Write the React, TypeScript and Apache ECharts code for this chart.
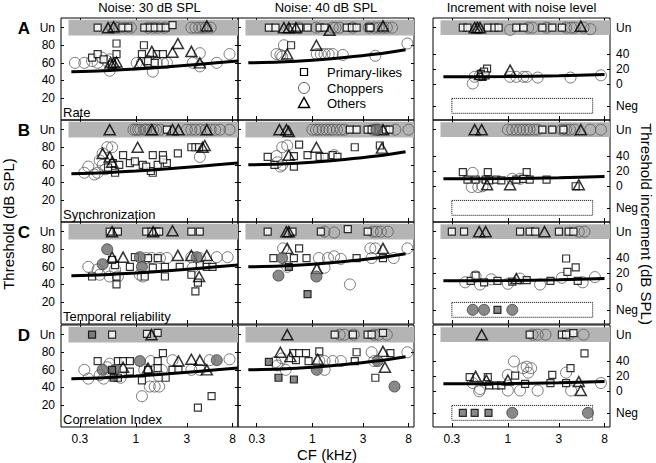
import React, { useEffect, useRef } from "react";
import * as echarts from "echarts";

type P = [number, number][];

// Special levels
const UN = 100; // "Un" (unmeasurable) on absolute threshold panels
const UN3 = 76; // "Un" on increment panels
const NEG = -29; // "Neg" on increment panels

// Tick labels
const xTicks = [0.3, 1, 3, 8];
const yTicksAbs = [20, 40, 60, 80, UN];
const yTicksInc = [NEG, 0, 20, 40, UN3];

const columnTitles = ["Noise: 30 dB SPL", "Noise: 40 dB SPL", "Increment with noise level"];
const rowLetters = ["A", "B", "C", "D"];
const rowNames = ["Rate", "Synchronization", "Temporal reliability", "Correlation Index"];
const legendNames = ["Primary-likes", "Choppers", "Others"];

// Model curves (CF kHz, dB)
const curve30: P = [[0.25, 50], [0.5, 51], [1, 53], [2, 55.5], [4, 58.5], [9, 62]];
const curve40: P = [[0.25, 60], [0.5, 61], [1, 63], [2, 66], [4, 70], [7.5, 75]];
const curveInc: P = [[0.25, 10], [1, 10.5], [3, 11.5], [8, 13]];

// ---- A: Rate ----
const rate30Sq: P = [[0.44, UN], [0.75, UN], [0.85, UN], [1.2, UN], [1.35, UN], [1.5, UN], [1.7, UN], [1.9, UN], [2.2, 103],
  [0.39, 66], [0.44, 70], [0.66, 82], [0.66, 70], [1.19, 80], [1.14, 70], [1.57, 70], [1.79, 70], [0.5, 64], [0.6, 58], [1.3, 62], [1.5, 60]];
const rate30Ci: P = [[0.6, UN], [0.65, UN], [0.7, UN], [0.8, UN], [0.9, UN], [1.3, UN], [1.45, UN], [1.6, UN], [1.85, UN], [3.3, UN], [3.6, UN], [3.9, UN], [4.2, UN], [4.5, UN], [5.0, UN],
  [0.27, 60], [0.33, 60], [0.39, 62], [0.44, 60], [0.54, 62], [0.57, 64], [0.57, 51], [0.48, 66], [1.02, 60], [1.14, 60], [1.44, 50], [1.3, 62], [1.57, 60], [1.79, 60], [1.95, 60], [3.4, 60], [3.96, 71], [3.96, 56], [5.7, 60], [7.5, 70]];
const rate30Tr: P = [[0.55, UN], [0.62, 101], [4.6, 102],
  [0.58, 60], [0.62, 60], [0.66, 61], [1.09, 60], [1.41, 73], [2.2, 72], [2.47, 82], [3.3, 73], [3.96, 60]];

const rate40Sq: P = [[0.39, UN], [0.45, UN], [0.65, UN], [0.75, UN], [0.9, UN], [1.17, UN], [1.3, UN], [2.1, UN], [2.35, UN], [2.6, UN], [3.4, UN], [3.5, UN],
  [0.63, 80]];
const rate40Ci: P = [[0.75, UN], [1.09, UN], [1.55, UN], [1.65, UN], [1.8, UN], [2.4, UN], [3.4, UN], [3.8, UN], [4.2, UN], [4.6, UN], [5.0, UN], [5.6, UN],
  [0.54, 80], [0.46, 70], [0.5, 69], [0.52, 67], [1.1, 70], [1.2, 70], [1.3, 70], [1.42, 70], [1.55, 70], [1.93, 69], [3.9, 68], [7.8, 82]];
const rate40Tr: P = [[0.54, UN], [0.6, UN], [0.7, UN], [1.45, 97], [4.6, 102], [0.58, 70], [1.09, 80]];

const rateIncSq: P = [[0.38, UN3], [0.42, UN3], [0.65, UN3], [0.75, UN3], [0.82, UN3], [1.2, UN3], [1.4, UN3], [2.1, UN3], [2.6, UN3], [3.2, UN3],
  [0.64, 21], [0.6, 17], [0.56, 14], [0.58, 10], [0.62, 12]];
const rateIncCi: P = [[0.52, UN3], [1.05, 73], [1.55, UN3], [1.7, UN3], [2.3, UN3], [3.5, UN3], [3.9, UN3], [4.2, UN3], [5.1, UN3], [5.9, 74],
  [0.47, 1], [0.49, 10], [1.05, 10], [1.2, 10], [1.4, 10], [1.5, 10], [1.9, 9], [3.85, 9], [7.4, 12], [0.55, 12]];
const rateIncTr: P = [[0.49, UN3], [0.52, UN3], [0.55, UN3], [4.8, 78], [1.05, 19], [0.55, 13]];

// ---- B: Synchronization ----
const sync30Sq: P = [[1.95, UN],
  [0.61, 62], [0.64, 51], [0.76, 71], [0.88, 62], [0.98, 64], [1.16, 60], [1.44, 71], [1.44, 51], [1.38, 53], [1.79, 71], [1.95, 62], [2.47, 73], [3.3, 80], [3.6, 80], [3.9, 80], [0.55, 57], [0.7, 60], [1.25, 58], [1.6, 60], [1.8, 66]];
const sync30Ci: P = [[0.95, UN], [1.0, UN], [1.05, UN], [1.1, UN], [1.2, UN], [1.25, UN], [1.35, UN], [1.45, UN], [1.55, UN], [1.7, UN], [3.0, UN], [3.3, UN], [3.6, UN], [4.0, UN], [4.5, UN], [5.0, UN], [5.5, UN], [6.1, UN], [7.5, UN],
  [0.33, 51], [0.36, 58], [0.54, 80], [0.6, 80], [0.49, 73], [0.46, 65], [0.49, 60], [0.41, 49], [0.44, 51], [0.52, 55], [3.96, 69]];
const sync30Tr: P = [[0.57, UN], [1.41, UN], [2.2, UN], [2.5, UN], [4.6, UN],
  [0.49, 73], [0.57, 69], [1.04, 80], [4.4, 82], [4.2, 80], [0.6, 63]];

const sync40Sq: P = [[2.25, UN], [2.6, UN], [3.3, UN], [3.6, UN], [4.9, UN], [5.3, UN],
  [0.75, 83], [2.5, 80], [4.3, 82], [0.38, 69], [0.67, 70], [0.9, 71], [1.17, 69], [1.3, 69], [1.55, 71], [1.72, 69], [0.67, 58], [0.44, 60]];
const sync40Ci: P = [[1.0, UN], [1.08, UN], [1.15, UN], [1.25, UN], [1.35, UN], [1.45, UN], [1.55, UN], [1.7, UN], [1.85, UN], [2.0, UN], [3.7, UN], [3.9, UN], [4.2, UN], [6.0, UN], [8.0, UN],
  [0.52, 80], [0.58, 82], [0.46, 70], [0.47, 63], [0.52, 60], [1.6, 71], [0.5, 58]];
const sync40Tr: P = [[0.49, UN], [0.57, UN], [0.6, 98], [4.6, UN], [1.09, 80], [0.6, 71], [4.5, 79]];
const sync40Fc: P = [[4.0, UN]];

const syncIncSq: P = [[2.1, UN3], [2.6, UN3], [3.3, UN3],
  [0.38, 19], [0.65, 19], [1.5, 19], [0.42, 9], [0.5, 9], [0.62, 9], [0.67, 8], [0.78, 9], [0.87, 8], [1.2, 9], [1.4, 10], [1.6, 9], [2.3, 9], [4.3, 0]];
const syncIncCi: P = [[1.0, UN3], [1.1, UN3], [1.2, UN3], [1.3, UN3], [1.4, UN3], [1.5, UN3], [1.6, UN3], [1.75, UN3], [1.9, UN3], [3.2, UN3], [3.5, UN3], [3.8, UN3], [4.2, UN3], [5.9, UN3], [7.4, UN3],
  [0.47, 18], [0.46, -1], [0.53, -1], [0.58, 0], [1.1, 10], [1.3, 10]];
const syncIncTr: P = [[0.49, UN3], [0.57, UN3], [4.8, UN3], [0.64, 2], [1.05, 2], [4.6, 2]];

// ---- C: Temporal reliability ----
const temp30Sq: P = [[0.57, UN], [0.68, UN], [1.25, UN], [1.4, UN], [1.55, UN], [1.65, UN], [3.3, UN], [3.96, UN],
  [0.39, 49], [0.64, 62], [0.66, 40], [0.66, 49], [0.88, 60], [0.98, 71], [1.21, 49], [1.44, 59], [1.6, 70], [1.87, 60], [1.87, 49], [2.57, 60], [3.3, 51], [3.96, 62], [3.8, 42], [3.6, 32], [4.6, 60], [5.2, 60], [0.6, 68], [1.3, 70]];
const temp30Ci: P = [[0.36, 60], [0.44, 57], [0.46, 51], [0.57, 49], [0.68, 49], [0.64, 57], [1.09, 51], [1.16, 49], [1.41, 70], [1.68, 70], [1.95, 70], [3.3, 71], [3.96, 70], [5.7, 71], [7.2, 71], [3.4, 59], [1.25, 70]];
const temp30Tr: P = [[0.6, UN], [1.45, UN], [2.2, 101], [0.6, 71], [0.76, 71], [2.47, 73], [3.3, 73], [4.6, 73], [3.9, 49]];
const temp30Fc: P = [[0.54, 80], [0.49, 63], [1.09, 71], [1.14, 60], [3.7, 71]];

const temp40Sq: P = [[0.38, UN], [0.65, UN], [1.2, UN], [2.15, 103], [3.3, UN],
  [0.75, 81], [0.43, 70], [0.67, 70], [0.88, 70], [2.6, 70], [4.6, 70]];
const temp40Ci: P = [[1.3, UN], [1.6, 99], [3.7, UN], [4.0, UN], [4.4, UN], [5.1, UN],
  [0.53, 81], [3.5, 81], [3.9, 81], [7.8, 81], [1.15, 70], [1.4, 70], [1.6, 72], [1.85, 69], [3.6, 70], [5.8, 70], [0.58, 60], [1.3, 59], [2.25, 40]];
const temp40Tr: P = [[0.57, UN], [0.6, UN], [0.58, 81], [4.6, 81], [1.1, 58]];
const temp40Fc: P = [[0.52, 70], [0.48, 50], [1.09, 49]];
const temp40Fs: P = [[0.6, 60], [0.9, 29]];

const tempIncSq: P = [[0.3, UN3], [0.39, UN3], [1.3, UN3], [1.6, UN3], [1.8, UN3], [3.0, UN3], [3.7, UN3], [4.1, UN3],
  [3.5, 40], [3.6, 22], [0.45, 10], [0.6, 8], [0.8, 10], [1.1, 9], [1.5, 11], [2.5, 10], [4.5, 10], [0.5, 17], [4.3, 28]];
const tempIncCi: P = [[4.6, UN3], [5.2, UN3], [0.4, 8], [0.55, 5], [0.7, 12], [1.0, 6], [1.3, 13], [2.0, 5], [3.2, 14], [5.0, 8], [6.5, 15], [0.5, 16]];
const tempIncTr: P = [[0.54, UN3], [0.62, UN3], [2.2, UN3], [1.2, 13]];
const tempIncFc: P = [[0.47, NEG], [0.6, NEG], [1.1, NEG]];
const tempIncFs: P = [[0.8, NEG]];

// ---- D: Correlation Index ----
const corr30Sq: P = [[0.6, UN], [1.27, 101], [1.6, 102],
  [0.44, 70], [0.68, 70], [0.76, 70], [0.88, 70], [0.88, 58], [0.68, 51], [1.6, 70], [1.14, 48], [1.79, 79], [1.9, 51], [2.2, 60], [2.5, 60], [3.8, 17], [5.1, 30], [1.3, 60], [1.6, 62]];
const corr30Ci: P = [[0.33, 60], [0.36, 50], [0.46, 54], [0.54, 63], [0.57, 67], [0.72, 51], [1.38, 70], [1.14, 30], [1.35, 41], [1.5, 41], [1.65, 41], [1.2, 60], [1.5, 60], [1.75, 60], [1.65, 53], [2.2, 71], [3.96, 60], [3.3, 60], [4.9, 71], [7.5, 72], [0.5, 50]];
const corr30Tr: P = [[1.4, UN], [0.76, 63], [2.5, 70], [3.3, 72], [3.96, 71], [4.6, 60], [1.3, 62]];
const corr30Fc: P = [[0.49, 60], [0.64, 60], [1.09, 70], [5.7, 71]];
const corr30Fs: P = [[0.39, UN], [0.6, 60], [0.62, 51]];

const corr40Sq: P = [[1.62, UN], [2.4, UN], [3.3, UN], [3.6, UN], [4.6, 102],
  [0.66, 79], [0.75, 79], [0.87, 79], [1.16, 81], [0.7, 71], [0.92, 70], [2.5, 70], [2.6, 80], [5.4, 79], [3.9, 51]];
const corr40Ci: P = [[1.8, UN], [2.0, UN], [2.45, UN], [3.8, UN], [4.2, UN], [5.0, UN],
  [0.45, 69], [0.52, 73], [0.47, 65], [1.16, 70], [1.3, 70], [1.55, 70], [1.85, 70], [3.6, 80], [7.8, 80], [3.8, 70], [0.56, 60], [1.3, 60]];
const corr40Tr: P = [[0.58, UN], [0.5, 80], [0.62, 75], [1.12, 72], [4.6, 81], [4.8, 63]];
const corr40Fc: P = [[4.1, 70], [5.9, 41], [1.1, 60]];
const corr40Fs: P = [[0.39, 69], [0.48, 51], [0.67, 49]];

const corrIncSq: P = [[1.6, UN3], [3.2, UN3], [3.5, UN3], [4.1, 78],
  [5.2, 51], [3.85, 31], [2.6, 22], [1.17, 21], [0.44, 19], [0.65, 19], [0.67, 8], [0.78, 8], [0.87, 8], [1.45, 10], [2.5, 11], [3.5, 11]];
const corrIncCi: P = [[1.7, UN3], [1.9, UN3], [2.25, UN3], [3.7, UN3], [5.1, UN3],
  [1.14, 40], [1.39, 31], [1.5, 33], [1.65, 31], [1.55, 25], [3.5, 25], [1.0, 22], [0.47, 11], [0.54, 0], [0.55, 3], [1.3, 1], [1.0, 1], [1.9, 1], [3.9, 1], [7.4, 11]];
const corrIncTr: P = [[0.57, UN3], [0.5, 20], [0.63, 15], [1.0, 15], [4.8, 1], [4.6, 13]];
const corrIncFc: P = [[1.1, NEG], [5.6, NEG]];
const corrIncFs: P = [[0.38, NEG], [0.49, NEG], [0.66, NEG]];

const E: P = [];
// Panel table (row-major), built from the arrays above
const panelData = [
  [rate30Sq, rate30Ci, rate30Tr, E, E], [rate40Sq, rate40Ci, rate40Tr, E, E], [rateIncSq, rateIncCi, rateIncTr, E, E],
  [sync30Sq, sync30Ci, sync30Tr, E, E], [sync40Sq, sync40Ci, sync40Tr, sync40Fc, E], [syncIncSq, syncIncCi, syncIncTr, E, E],
  [temp30Sq, temp30Ci, temp30Tr, temp30Fc, E], [temp40Sq, temp40Ci, temp40Tr, temp40Fc, temp40Fs], [tempIncSq, tempIncCi, tempIncTr, tempIncFc, tempIncFs],
  [corr30Sq, corr30Ci, corr30Tr, corr30Fc, corr30Fs], [corr40Sq, corr40Ci, corr40Tr, corr40Fc, corr40Fs], [corrIncSq, corrIncCi, corrIncTr, corrIncFc, corrIncFs],
];
const curves = [curve30, curve40, curveInc];

// ---- layout ----
const FONT = "'Liberation Sans', Arial, Helvetica, sans-serif";
const colLeft = [61, 238, 433];
const colWidth = [177, 176, 177];
const rowTop = [18, 120, 222, 325];
const rowH = 102;

const lx = (v: number) => Math.log10(v);
const toXY = (arr: P) => arr.map(([f, t]) => [lx(f), t]);
const xMin = lx(0.2);
const xMax = lx(9);
const fmtX = (v: number) => String(parseFloat(Math.pow(10, v).toPrecision(2)));

function buildOption() {
  const grid: any[] = [];
  const xAxis: any[] = [];
  const yAxis: any[] = [];
  const series: any[] = [];
  const graphic: any[] = [];

  for (let r = 0; r < 4; r++) {
    for (let c = 0; c < 3; c++) {
      const gi = r * 3 + c;
      const inc = c === 2;
      grid.push({ left: colLeft[c], top: rowTop[r], width: colWidth[c], height: rowH, show: true, borderColor: "#000", borderWidth: 1, backgroundColor: "transparent" });
      const xt = xTicks.map(lx);
      const mkX = (pos: string, showLabel: boolean) => ({
        type: "value", gridIndex: gi, position: pos, min: xMin, max: xMax,
        axisLine: { show: false, onZero: false }, splitLine: { show: false },
        axisTick: { show: true, inside: true, length: 4, customValues: xt, lineStyle: { color: "#000" } },
        axisLabel: { show: showLabel, customValues: xt, formatter: fmtX, margin: 6, color: "#000", fontSize: 12, fontFamily: FONT },
      });
      xAxis.push(mkX("bottom", r === 3));
      xAxis.push(mkX("top", false));
      const yt = inc ? yTicksInc : yTicksAbs;
      const fmtY = (v: number) => (v === UN || v === UN3 ? "Un" : v === NEG ? "Neg" : String(v));
      const mkY = (pos: string, showLabel: boolean) => ({
        type: "value", gridIndex: gi, position: pos, min: inc ? -48 : -5, max: inc ? 89 : 111,
        axisLine: { show: false, onZero: false }, splitLine: { show: false },
        axisTick: { show: true, inside: true, length: 3, customValues: yt, lineStyle: { color: "#000" } },
        axisLabel: { show: showLabel, customValues: yt, formatter: fmtY, margin: 6, color: "#000", fontSize: 12, fontFamily: FONT },
      });
      yAxis.push(mkY("left", c === 0));
      yAxis.push(mkY("right", c === 2));

      const areas: any[] = [
        [{ xAxis: lx(0.235), yAxis: inc ? 66 : 91, itemStyle: { color: "#b4b4b4" } }, { xAxis: xMax, yAxis: inc ? 86 : 109 }],
      ];
      if (inc) {
        areas.push([
          { xAxis: lx(0.3), yAxis: -19, itemStyle: { color: "rgba(0,0,0,0)", borderColor: "#000", borderWidth: 1, borderType: "dotted" } },
          { xAxis: lx(6.2), yAxis: -39 },
        ]);
      }
      const axisIdx = { xAxisIndex: gi * 2, yAxisIndex: gi * 2 };
      series.push({
        type: "line", ...axisIdx, data: toXY(curves[c]), symbol: "none", smooth: 0.3, silent: true, z: 3,
        lineStyle: { color: "#000", width: 3 },
        markArea: { silent: true, data: areas },
      });
      const [sq, ci, tr, fc, fs] = panelData[gi];
      series.push({ type: "scatter", name: "Choppers", ...axisIdx, data: toXY(ci), symbol: "circle", symbolSize: 11, silent: true, z: 2,
        itemStyle: { color: "rgba(0,0,0,0)", borderColor: "#5a5a5a", borderWidth: 1 } });
      series.push({ type: "scatter", name: "Primary-likes", ...axisIdx, data: toXY(sq), symbol: "rect", symbolSize: 7, silent: true, z: 2,
        itemStyle: { color: "#fff", borderColor: "#000", borderWidth: 1.2 } });
      series.push({ type: "scatter", name: "Others", ...axisIdx, data: toXY(tr), symbol: "triangle", symbolSize: [11, 10], silent: true, z: 2,
        itemStyle: { color: "rgba(0,0,0,0)", borderColor: "#000", borderWidth: 1.5 } });
      if (fc.length) series.push({ type: "scatter", name: "Choppers (filled)", ...axisIdx, data: toXY(fc), symbol: "circle", symbolSize: 11, silent: true, z: 2,
        itemStyle: { color: "#6b6b6b", borderColor: "#444", borderWidth: 1 } });
      if (fs.length) series.push({ type: "scatter", name: "Primary-likes (filled)", ...axisIdx, data: toXY(fs), symbol: "rect", symbolSize: 7, silent: true, z: 2,
        itemStyle: { color: "#6b6b6b", borderColor: "#000", borderWidth: 1.2 } });
    }
  }

  // column titles
  for (let c = 0; c < 3; c++) {
    graphic.push({ type: "text", x: colLeft[c] + colWidth[c] / 2, y: 7, style: { text: columnTitles[c], align: "center", verticalAlign: "middle", fontSize: 13, fontFamily: FONT, fill: "#000" } });
  }
  // row letters and names
  for (let r = 0; r < 4; r++) {
    graphic.push({ type: "text", x: 24, y: rowTop[r] + 10, style: { text: rowLetters[r], align: "center", verticalAlign: "middle", fontSize: 17, fontWeight: "bold", fontFamily: FONT, fill: "#000" } });
    graphic.push({ type: "text", x: colLeft[0] + 2, y: rowTop[r] + rowH - 8, style: { text: rowNames[r], align: "left", verticalAlign: "middle", fontSize: 13, fontFamily: FONT, fill: "#000" } });
  }
  // axis titles
  graphic.push({ type: "text", x: 8, y: 224, rotation: Math.PI / 2, style: { text: "Threshold (dB SPL)", align: "center", verticalAlign: "middle", fontSize: 15, fontFamily: FONT, fill: "#000" } });
  graphic.push({ type: "text", x: 646, y: 224, rotation: -Math.PI / 2, style: { text: "Threshold increment (dB SPL)", align: "center", verticalAlign: "middle", fontSize: 15, fontFamily: FONT, fill: "#000" } });
  graphic.push({ type: "text", x: 327, y: 454, style: { text: "CF (kHz)", align: "center", verticalAlign: "middle", fontSize: 15, fontFamily: FONT, fill: "#000" } });

  // legend (inside panel A, middle column)
  const lgX = 304;
  const lgY = [72, 88, 103];
  graphic.push({ type: "rect", shape: { x: lgX - 3.5, y: lgY[0] - 3.5, width: 7, height: 7 }, style: { fill: "#fff", stroke: "#000", lineWidth: 1.2 } });
  graphic.push({ type: "circle", shape: { cx: lgX, cy: lgY[1], r: 5.5 }, style: { fill: "none", stroke: "#5a5a5a", lineWidth: 1 } });
  graphic.push({ type: "polygon", shape: { points: [[lgX, lgY[2] - 5.5], [lgX - 5.5, lgY[2] + 4.5], [lgX + 5.5, lgY[2] + 4.5]] }, style: { fill: "none", stroke: "#000", lineWidth: 1.5 } });
  legendNames.forEach((n, i) => {
    graphic.push({ type: "text", x: 327, y: lgY[i], style: { text: n, align: "left", verticalAlign: "middle", fontSize: 13, fontFamily: FONT, fill: "#000" } });
  });

  return { animation: false, backgroundColor: "#fff", grid, xAxis, yAxis, series, graphic };
}

export default function App() {
  const ref = useRef<HTMLDivElement>(null);
  useEffect(() => {
    const chart = echarts.init(ref.current!, null, { renderer: "svg" });
    chart.setOption(buildOption() as any);
    return () => chart.dispose();
  }, []);
  return <div ref={ref} style={{ position: "absolute", left: 0, top: 0, width: 656, height: 463 }} />;
}
